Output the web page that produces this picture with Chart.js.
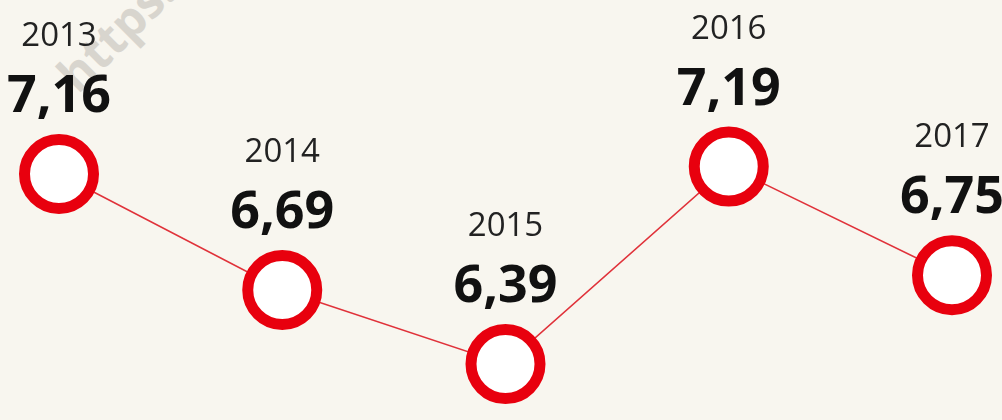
<!DOCTYPE html>
<html>
<head>
<meta charset="utf-8">
<script src="https://cdn.jsdelivr.net/npm/chart.js@4/dist/chart.umd.min.js"></script>
<style>
  html, body { margin: 0; padding: 0; background: #f8f6ef; }
  #wrap { position: relative; width: 1002px; height: 420px; overflow: hidden; }
  #mark { position: absolute; left: 88px; top: 40px; height: 65px; font: bold 48px/65px "Open Sans", sans-serif;
          color: #d8d5ce; transform: rotate(-45deg); transform-origin: 0 100%; white-space: nowrap; }
  canvas { position: absolute; left: 0; top: 0; }
</style>
</head>
<body>
<div id="wrap">
  <div id="mark">https://</div>
  <canvas id="c" width="1002" height="420"></canvas>
</div>
<script>
'use strict';
const years = ['2013', '2014', '2015', '2016', '2017'];
const values = [7.16, 6.69, 6.39, 7.19, 6.75];

const RED = '#e8000e';

// étiquettes : année + valeur au-dessus de chaque point
const labelPlugin = {
  id: 'labels',
  afterDatasetsDraw(chart) {
    const ctx = chart.ctx, meta = chart.getDatasetMeta(0);
    ctx.save();
    ctx.textAlign = 'center';
    ctx.textBaseline = 'alphabetic';
    meta.data.forEach((pt, i) => {
      ctx.fillStyle = '#222';
      ctx.font = '33px "Open Sans", sans-serif';
      ctx.fillText(years[i], pt.x, pt.y - 128);
      ctx.fillStyle = '#111';
      ctx.font = 'bold 52px "Open Sans", sans-serif';
      ctx.fillText(values[i].toFixed(2).replace('.', ','), pt.x, pt.y - 62);
    });
    ctx.restore();
  }
};

new Chart(document.getElementById('c'), {
  type: 'line',
  data: {
    labels: years,
    datasets: [{
      data: values,
      borderColor: '#e0323a',
      borderWidth: 1.5,
      pointRadius: 34.5,
      pointHoverRadius: 34.5,
      pointBorderWidth: 11,
      pointBackgroundColor: '#ffffff',
      pointBorderColor: RED,
      tension: 0,
      clip: false
    }]
  },
  options: {
    responsive: false,
    animation: false,
    events: [],
    layout: { autoPadding: false, padding: { left: 59, right: 50, top: 16, bottom: 9 } },
    plugins: { legend: { display: false }, tooltip: { enabled: false } },
    scales: {
      x: { type: 'category', offset: false, display: false },
      y: { min: 6.2, max: 7.8, display: false }
    }
  },
  plugins: [labelPlugin]
});
</script>
</body>
</html>
